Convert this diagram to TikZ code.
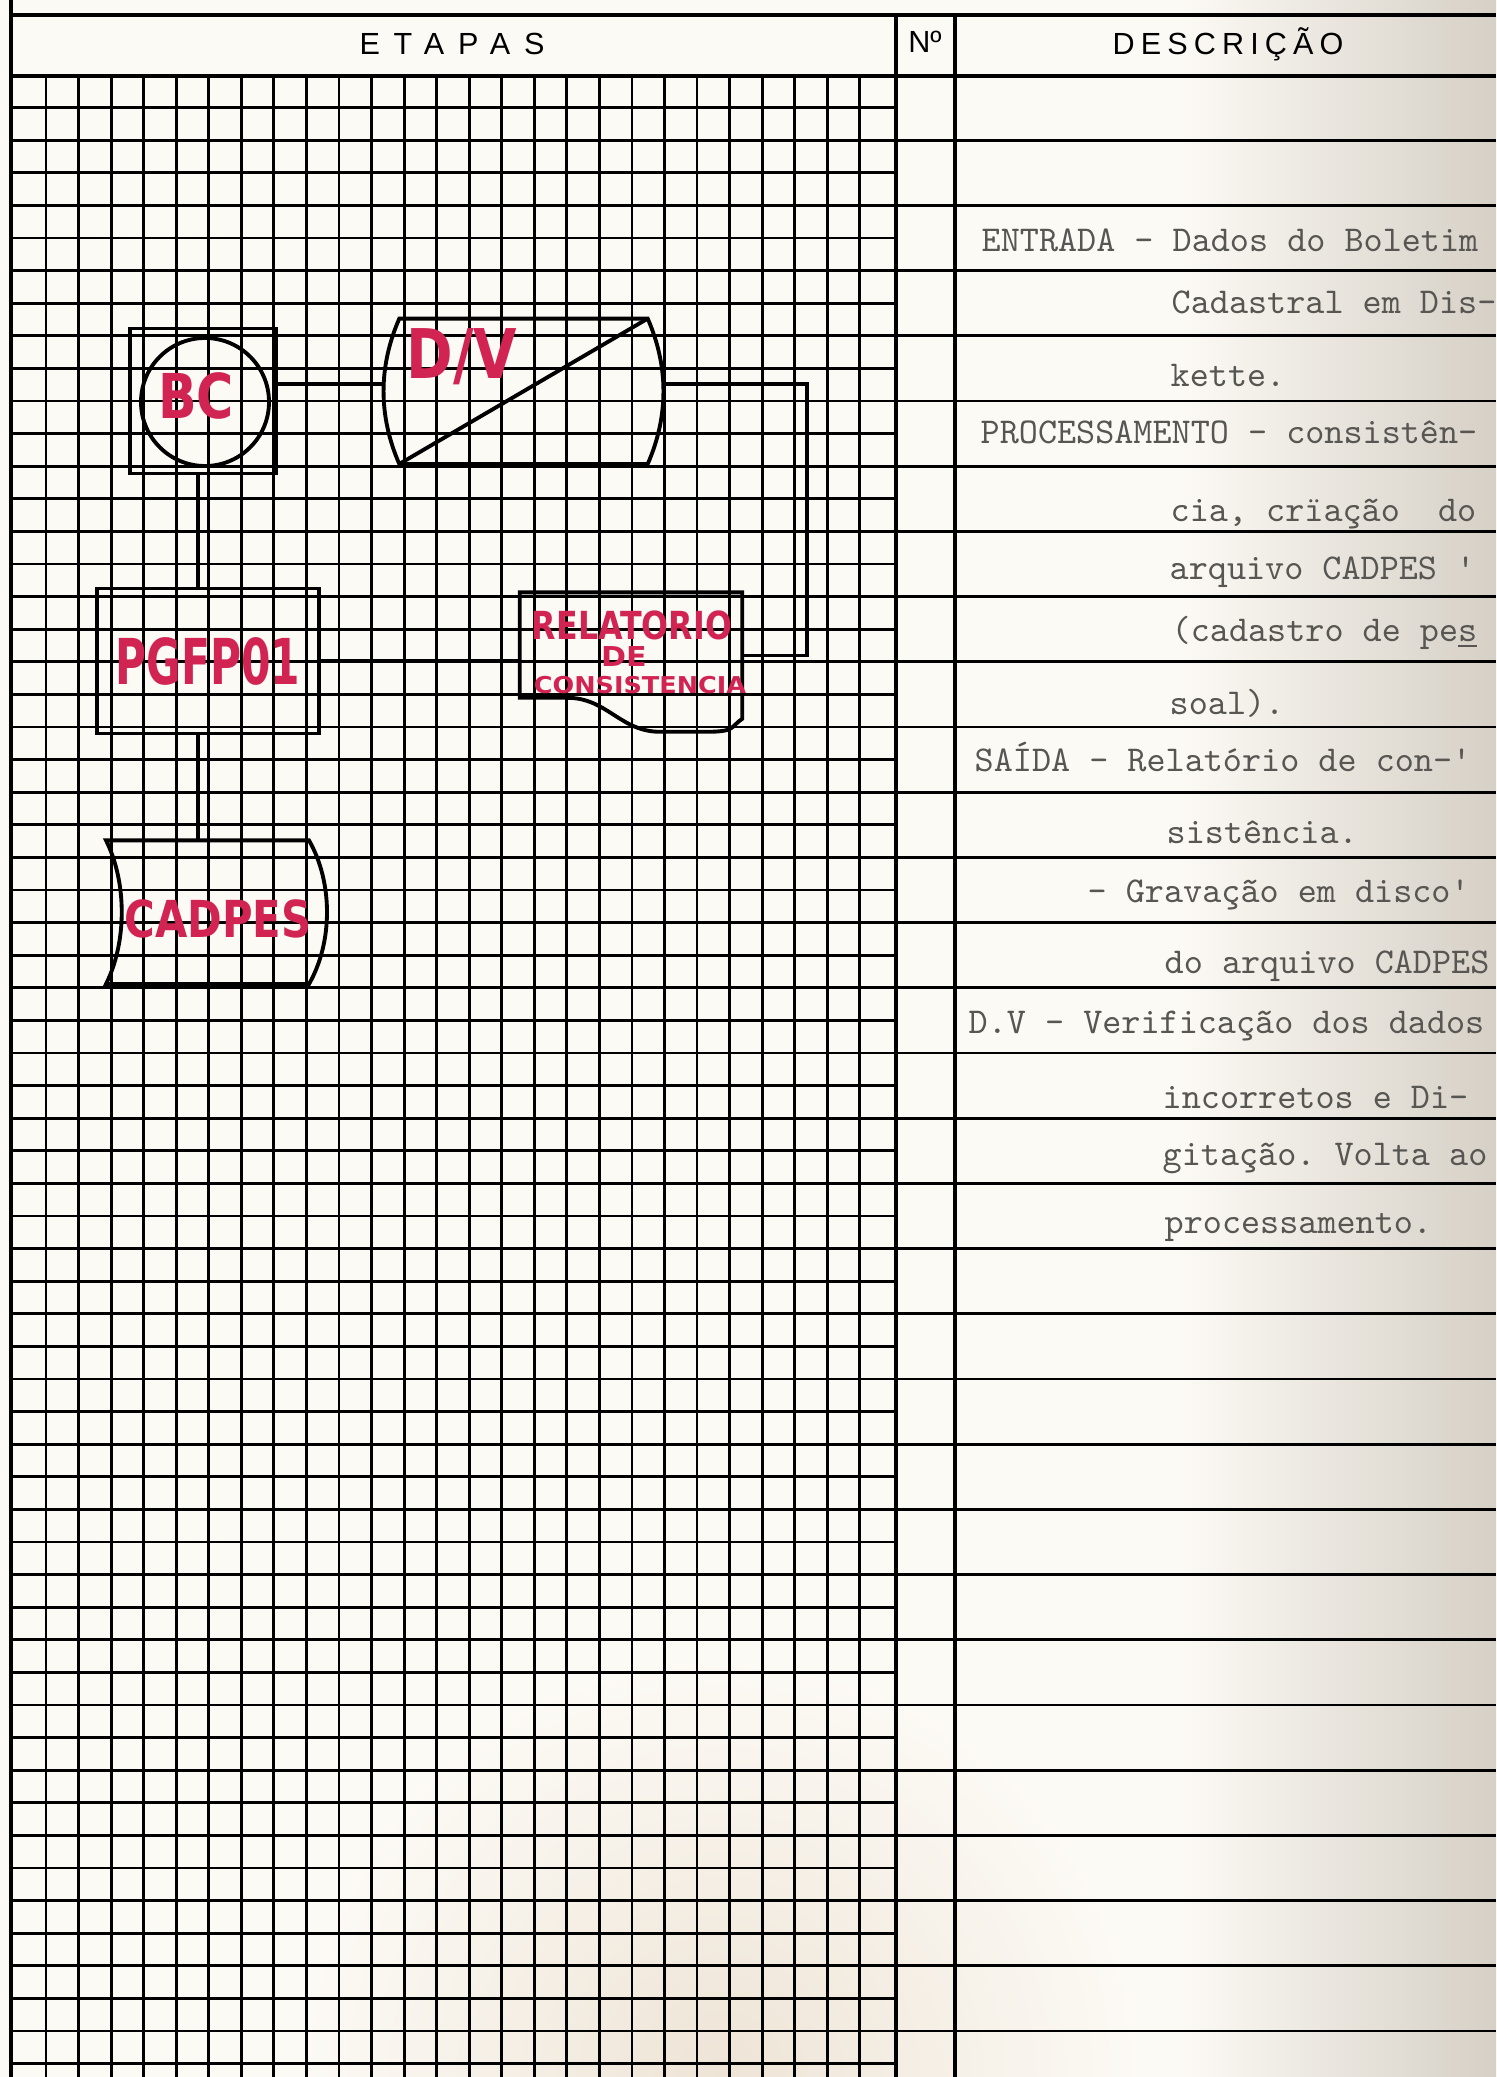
\documentclass[tikz,border=0pt]{standalone}
\usepackage{fontspec}
\setmainfont{Liberation Sans}
\newfontfamily\mkfont[FakeStretch=0.82]{DejaVu Sans Bold}
\newfontfamily\mknarrow[FakeStretch=0.67]{DejaVu Sans Bold}
\newfontfamily\mkwide[FakeStretch=1.1]{DejaVu Sans Bold}
\usepackage{tikz}
\definecolor{ink}{RGB}{210,36,82}
\definecolor{type}{RGB}{88,86,83}
\definecolor{paper}{RGB}{252,250,245}
\definecolor{stain}{RGB}{214,208,198}
\definecolor{stainb}{RGB}{238,228,214}
\tikzset{
  gl/.style={line width=0.8pt},
  bl/.style={line width=1.4pt},
  sh/.style={draw,line width=1.1pt},
  cn/.style={line width=0.9pt},
  fr/.style={inner sep=0pt},
  mk/.style={text=ink,inner sep=0pt},
  tw/.style={anchor=base west,inner sep=0pt,text=type,font=\ttfamily\fontsize{10.35}{10.35}\selectfont\frenchspacing},
  hd/.style={anchor=base,inner sep=0pt,text=black,font=\fontsize{8.7}{8.7}\selectfont},
}

\begin{document}
\frenchspacing
\begin{tikzpicture}[x=0.1mm,y=-0.1mm]
\useasboundingbox (0,0) rectangle (1496,2077);
\begin{scope}
\clip (0,0) rectangle (1496,2077);
\fill[paper] (0,0) rectangle (1496,2077);
\shade[left color=paper,right color=stain] (1180,0) rectangle (1496,2077);
\shade[inner color=stainb,outer color=paper] (720,2077) circle (420);
\end{scope}

\foreach \k in {1,...,26}
  \draw[gl] ({13.5+32.55*\k},76) -- ({13.5+32.55*\k},2077);
\foreach \j in {1,3,...,61}
  \draw[gl] (11,{75+32.6*\j}) -- (896,{75+32.6*\j});
\foreach \j in {2,4,...,60}
  \draw[gl] (11,{75+32.6*\j}) -- (1496,{75+32.6*\j});
\draw[bl] (11,0) -- (11,2077);
\draw[bl] (896,15) -- (896,2077);
\draw[bl] (955,15) -- (955,2077);
\draw[bl] (11,15) -- (1496,15);
\draw[bl] (11,76) -- (1496,76);

\node[hd] (etapas) at (452,55) {\addfontfeature{LetterSpace=45}ETAPAS};
\node[hd] (num) at (925,53) {Nº};
\node[hd] (descr) at (1228,55) {\addfontfeature{LetterSpace=20}DESCRIÇÃO};

\node[sh,fr,minimum width=14.54mm,minimum height=14.5mm] (bcsq) at (203,401) {};
\node[sh,circle,fr,minimum size=12.8mm] (bc) at (205,402) {};
\node[mk,font=\mkfont\fontsize{17.6}{18}\selectfont] (bct) at (196,396) {BC};

\node[fr,minimum width=24.7mm,minimum height=14.4mm] (dv) at (523.5,391.3) {};
\draw[sh] (dv.south west) .. controls +(-21,-48) and +(-21,48) .. (dv.north west) coordinate[pos=.55] (dvl)
  -- (dv.north east) .. controls +(21,48) and +(21,-48) .. (dv.south east) coordinate[pos=.45] (dvr) -- cycle;
\draw[sh] (dv.south west) -- (dv.north east);
\node[mk,font=\mkfont\fontsize{19.5}{20}\selectfont] (dvt) at (462,357) {D/V};

\node[sh,mk,minimum width=22.2mm,minimum height=14.5mm,font=\mknarrow\fontsize{18}{18}\selectfont] (pg) at (208,661) {PGFP01};

\node[fr,minimum width=22.1mm,minimum height=12.5mm] (rel) at (631,655.6) {};
\draw[sh] ([yshift=2.1mm]rel.south west) -- (rel.north west) -- (rel.north east) -- (rel.south east)
  .. controls +(-12,8) and +(30,0) .. ++(-36,13) -- ++(-46,0) .. controls +(-40,0) and +(40,0) .. ++(-93,-34) -- cycle;
\node[mk,font=\mkfont\fontsize{11}{11}\selectfont] (relt1) at (632,625) {RELATORIO};
\node[mk,font=\mkwide\fontsize{7.8}{8}\selectfont] (relt2) at (624,657) {DE};
\node[mk,font=\mkwide\fontsize{6.6}{7}\selectfont] (relt3) at (640,685) {CONSISTENCIA};

\node[fr,minimum width=20.16mm,minimum height=14.23mm] (cad) at (207.5,912.2) {};
\draw[sh] (cad.north west) -- (cad.north east) .. controls +(24,42) and +(24,-42) .. (cad.south east)
  -- (cad.south west) .. controls +(21,-42) and +(21,42) .. (cad.north west) -- (cad.north east);
\node[mk,font=\mkfont\fontsize{14.5}{15}\selectfont] (cadt) at (218,919) {CADPES};

\coordinate (spine) at (198,0);
\draw[cn] (dvl -| bcsq.east) -- (dvl);
\draw[cn] (spine |- bcsq.south) -- (spine |- pg.north);
\draw[cn] (pg.east) -- (pg.east -| rel.west);
\coordinate (back) at (807,520);
\draw[cn] (dvr) -| (back) |- (rel.east);
\draw[cn] (spine |- pg.south) -- (spine |- cad.north);

\node[tw] (d1) at (981,252) {ENTRADA - Dados do Boletim};
\node[tw] (d2) at (1171,314) {Cadastral em Dis-};
\node[tw] (d3) at (1170,387) {kette.};
\node[tw] (d4) at (980,443) {PROCESSAMENTO - consistên-};
\node[tw] (d5) at (1170,521) {cia, crïação\ \ do};
\node[tw] (d6) at (1169,579) {arquivo CADPES '};
\node[tw] (d7) at (1171,641) {(cadastro de pe\underline{s}};
\node[tw] (d8) at (1169,714) {soal).};
\node[tw] (d9) at (974,771) {SAÍDA - Relatório de con-'};
\node[tw] (d10) at (1166,843) {sistência.};
\node[tw] (d11) at (1087,902) {- Gravação em disco'};
\node[tw] (d12) at (1164,973) {do arquivo CADPES};
\node[tw] (d13) at (968,1033) {D.V - Verificação dos dados};
\node[tw] (d14) at (1162,1108) {incorretos e Di-};
\node[tw] (d15) at (1162,1165) {gitação. Volta ao};
\node[tw] (d16) at (1164,1233) {processamento.};
\end{tikzpicture}
\end{document}
